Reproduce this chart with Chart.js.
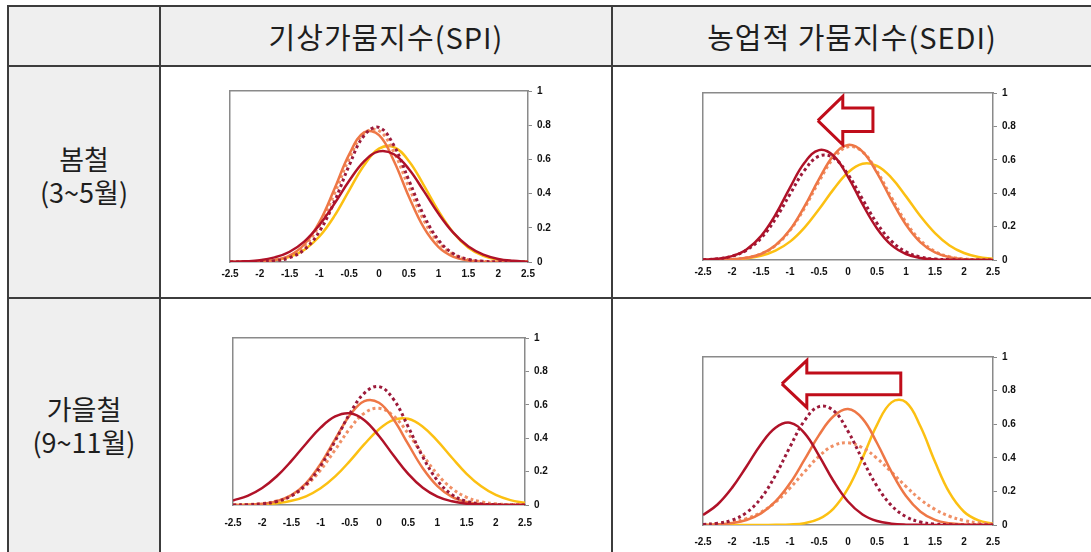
<!DOCTYPE html>
<html>
<head>
<meta charset="utf-8">
<script src="https://cdn.jsdelivr.net/npm/chart.js@4.4.0/dist/chart.umd.min.js"></script>
<style>
  body { margin: 0; width: 1091px; height: 552px; background: #fff; position: relative; overflow: hidden; font-family: 'Noto Sans CJK KR', sans-serif; }
  .bg { position: absolute; background: #efefef; }
  .ln { position: absolute; background: #3c3c3c; }
  .head { position: absolute; top: 6px; height: 60px; line-height: 60px; text-align: center; font-size: 29px; letter-spacing: 1px; color: #1e1e1e; }
  .side { position: absolute; left: 8px; width: 152px; text-align: center; font-size: 27px; line-height: 33px; color: #1e1e1e; }
  canvas { position: absolute; }
</style>
</head>
<body>
<div class="bg" style="left:8px;top:6px;width:1083px;height:60px"></div>
<div class="bg" style="left:8px;top:66px;width:152px;height:486px"></div>

<div class="ln" style="left:7px;top:5px;width:1084px;height:2px"></div>
<div class="ln" style="left:7px;top:65px;width:1084px;height:2px"></div>
<div class="ln" style="left:7px;top:297px;width:1084px;height:2px"></div>
<div class="ln" style="left:7px;top:5px;width:2px;height:547px"></div>
<div class="ln" style="left:159px;top:5px;width:2px;height:547px"></div>
<div class="ln" style="left:611px;top:5px;width:2px;height:547px"></div>

<div class="head" style="left:161px;width:450px">기상가뭄지수(SPI)</div>
<div class="head" style="left:613px;width:478px">농업적 가뭄지수(SEDI)</div>
<div class="side" style="top:142px">봄철<br>(3~5월)</div>
<div class="side" style="top:392px">가을철<br>(9~11월)</div>

<canvas id="spiSpring" width="362" height="205" style="left:210px;top:80px"></canvas>
<canvas id="sediSpring" width="357" height="200" style="left:683px;top:82px"></canvas>
<canvas id="spiAutumn" width="363" height="207" style="left:207px;top:327px"></canvas>
<canvas id="sediAutumn" width="362" height="205" style="left:678px;top:346px"></canvas>

<script>
// x grid of the curves (standardised index)
const xValues = [-2.5, -2.25, -2, -1.75, -1.5, -1.25, -1, -0.75, -0.5, -0.25, 0, 0.25, 0.5, 0.75, 1, 1.25, 1.5, 1.75, 2, 2.25, 2.5];

// 봄철 - SPI
const spiSpringDarkRed = [0.001, 0.004, 0.01, 0.027, 0.06, 0.121, 0.216, 0.34, 0.475, 0.589, 0.647, 0.63, 0.544, 0.416, 0.282, 0.17, 0.09, 0.043, 0.018, 0.007, 0.002];
const spiSpringDarkRedDot = [0, 0, 0.001, 0.007, 0.025, 0.073, 0.178, 0.351, 0.565, 0.74, 0.787, 0.681, 0.479, 0.274, 0.128, 0.048, 0.015, 0.004, 0.001, 0, 0];
const spiSpringOrange = [0, 0.001, 0.003, 0.011, 0.038, 0.104, 0.233, 0.425, 0.629, 0.758, 0.742, 0.591, 0.383, 0.202, 0.087, 0.03, 0.009, 0.002, 0, 0, 0];
const spiSpringOrangeDot = [0, 0, 0.002, 0.01, 0.034, 0.094, 0.215, 0.398, 0.604, 0.752, 0.768, 0.642, 0.439, 0.246, 0.113, 0.043, 0.013, 0.003, 0.001, 0, 0];
const spiSpringYellow = [0, 0.001, 0.003, 0.011, 0.03, 0.072, 0.149, 0.268, 0.419, 0.566, 0.663, 0.672, 0.591, 0.45, 0.297, 0.17, 0.084, 0.036, 0.013, 0.004, 0.001];

// 봄철 - SEDI
const sediSpringDarkRed = [0.002, 0.007, 0.023, 0.063, 0.143, 0.271, 0.434, 0.582, 0.658, 0.624, 0.498, 0.334, 0.189, 0.089, 0.036, 0.012, 0.003, 0.001, 0, 0, 0];
const sediSpringDarkRedDot = [0.002, 0.007, 0.023, 0.059, 0.13, 0.246, 0.394, 0.537, 0.622, 0.612, 0.512, 0.364, 0.22, 0.113, 0.049, 0.018, 0.006, 0.002, 0, 0, 0];
const sediSpringOrange = [0, 0.001, 0.004, 0.013, 0.036, 0.088, 0.181, 0.321, 0.484, 0.625, 0.689, 0.649, 0.522, 0.359, 0.211, 0.106, 0.045, 0.017, 0.005, 0.001, 0];
const sediSpringOrangeDot = [0, 0.001, 0.004, 0.013, 0.036, 0.086, 0.177, 0.311, 0.47, 0.609, 0.678, 0.648, 0.531, 0.374, 0.226, 0.117, 0.052, 0.02, 0.007, 0.002, 0];
const sediSpringYellow = [0, 0.001, 0.004, 0.01, 0.025, 0.056, 0.11, 0.194, 0.304, 0.423, 0.524, 0.576, 0.564, 0.492, 0.381, 0.262, 0.161, 0.087, 0.042, 0.018, 0.007];
const sediSpringArrowX = [-0.52, -0.09, -0.09, 0.43, 0.43, -0.09, -0.09, -0.52];
const sediSpringArrowY = [0.835, 0.98, 0.91, 0.91, 0.77, 0.77, 0.69, 0.835];

// 가을철 - SPI
const spiAutumnDarkRed = [0.027, 0.055, 0.102, 0.172, 0.264, 0.367, 0.463, 0.53, 0.549, 0.508, 0.413, 0.296, 0.186, 0.103, 0.05, 0.022, 0.008, 0.003, 0.001, 0, 0];
const spiAutumnDarkRedDot = [0, 0.002, 0.007, 0.021, 0.055, 0.122, 0.233, 0.384, 0.547, 0.67, 0.709, 0.632, 0.468, 0.288, 0.147, 0.062, 0.022, 0.006, 0.002, 0, 0];
const spiAutumnOrange = [0, 0.002, 0.007, 0.023, 0.059, 0.13, 0.246, 0.394, 0.537, 0.622, 0.612, 0.512, 0.364, 0.22, 0.113, 0.049, 0.018, 0.006, 0.002, 0, 0];
const spiAutumnOrangeDot = [0.001, 0.003, 0.009, 0.024, 0.056, 0.116, 0.21, 0.331, 0.457, 0.55, 0.579, 0.533, 0.428, 0.3, 0.184, 0.099, 0.046, 0.019, 0.007, 0.002, 0.001];
const spiAutumnYellow = [0, 0.001, 0.004, 0.011, 0.025, 0.052, 0.1, 0.171, 0.263, 0.364, 0.454, 0.51, 0.516, 0.469, 0.384, 0.283, 0.187, 0.112, 0.06, 0.029, 0.013];

// 가을철 - SEDI
const sediAutumnDarkRed = [0.059, 0.122, 0.221, 0.348, 0.481, 0.579, 0.609, 0.547, 0.413, 0.262, 0.14, 0.063, 0.024, 0.008, 0.002, 0.001, 0, 0, 0, 0, 0];
const sediAutumnDarkRedDot = [0.003, 0.01, 0.029, 0.074, 0.16, 0.296, 0.465, 0.621, 0.705, 0.681, 0.558, 0.389, 0.231, 0.116, 0.05, 0.018, 0.006, 0.002, 0, 0, 0];
const sediAutumnOrange = [0.001, 0.004, 0.012, 0.03, 0.069, 0.14, 0.248, 0.389, 0.535, 0.647, 0.69, 0.633, 0.488, 0.316, 0.172, 0.079, 0.03, 0.01, 0.003, 0.001, 0];
const sediAutumnOrangeDot = [0.002, 0.007, 0.017, 0.038, 0.076, 0.136, 0.22, 0.317, 0.409, 0.473, 0.489, 0.46, 0.397, 0.315, 0.229, 0.152, 0.093, 0.052, 0.027, 0.013, 0.005];
const sediAutumnYellow = [0, 0, 0, 0, 0, 0.001, 0.003, 0.011, 0.036, 0.098, 0.218, 0.398, 0.596, 0.73, 0.731, 0.586, 0.376, 0.192, 0.079, 0.027, 0.007];
const sediAutumnArrowX = [-1.14, -0.71, -0.71, 0.91, 0.91, -0.71, -0.71, -1.14];
const sediAutumnArrowY = [0.84, 0.98, 0.905, 0.905, 0.775, 0.775, 0.7, 0.84];

const colors = {
  darkRed: '#b01228',
  darkRedDot: '#9c1a3a',
  orange: '#ee7746',
  orangeDot: '#f09066',
  yellow: '#fcc012',
  arrow: '#c00d1a',
  axis: '#8a8a8a',
};

function curve(values, color, dotted) {
  return {
    data: values.map((v, i) => ({ x: xValues[i], y: v })),
    borderColor: color,
    borderWidth: dotted ? 3 : 2.5,
    borderDash: dotted ? [3, 3] : [],
    pointRadius: 0,
    tension: 0.4,
    fill: false,
  };
}

function arrow(xs, ys) {
  return {
    data: xs.map((x, i) => ({ x, y: ys[i] })),
    borderColor: colors.arrow,
    borderWidth: 3,
    borderJoinStyle: 'miter',
    pointRadius: 0,
    tension: 0,
    fill: false,
  };
}

const tickFont = { family: 'Liberation Sans', weight: 'bold', size: 10 };
// plain labels: -2.5, -2, ... and 0, 0.2, ... 1
const plainLabel = (v) => String(Math.round(v * 10) / 10);

function renderChart(id, datasets, padding, labelPad) {
  const ctx = document.getElementById(id);
  return new Chart(ctx, {
    type: 'line',
    data: { datasets },
    options: {
      responsive: false,
      animation: false,
      devicePixelRatio: 1,
      layout: { padding },
      plugins: { legend: { display: false }, tooltip: { enabled: false } },
      scales: {
        x: {
          type: 'linear', position: 'bottom', min: -2.5, max: 2.5,
          afterFit: (s) => { s.height = 22; },
          grid: { display: false, drawTicks: false },
          border: { color: colors.axis, width: 1.5 },
          ticks: { stepSize: 0.5, padding: labelPad, color: '#111', font: tickFont, maxRotation: 0, autoSkip: false, callback: plainLabel },
        },
        y: {
          type: 'linear', position: 'right', min: 0, max: 1,
          afterFit: (s) => { s.width = 40; },
          grid: { drawOnChartArea: false, drawTicks: true, tickLength: 4, color: colors.axis },
          border: { color: colors.axis, width: 1.5 },
          ticks: { stepSize: 0.2, padding: 5, color: '#111', font: tickFont, callback: plainLabel },
        },
        xTop: {
          type: 'linear', position: 'top', min: -2.5, max: 2.5,
          afterFit: (s) => { s.height = 0; },
          grid: { display: false, drawTicks: false },
          border: { color: colors.axis, width: 1.5 },
          ticks: { display: false },
        },
        yLeft: {
          type: 'linear', position: 'left', min: 0, max: 1,
          afterFit: (s) => { s.width = 0; },
          grid: { display: false, drawTicks: false },
          border: { color: colors.axis, width: 1.5 },
          ticks: { display: false },
        },
      },
    },
  });
}

renderChart('spiSpring', [
  curve(spiSpringDarkRed, colors.darkRed, false),
  curve(spiSpringDarkRedDot, colors.darkRedDot, true),
  curve(spiSpringOrange, colors.orange, false),
  curve(spiSpringOrangeDot, colors.orangeDot, true),
  curve(spiSpringYellow, colors.yellow, false),
], { left: 20, top: 8, right: 4, bottom: 1 }, 6);

renderChart('sediSpring', [
  arrow(sediSpringArrowX, sediSpringArrowY),
  curve(sediSpringDarkRed, colors.darkRed, false),
  curve(sediSpringDarkRedDot, colors.darkRedDot, true),
  curve(sediSpringOrange, colors.orange, false),
  curve(sediSpringOrangeDot, colors.orangeDot, true),
  curve(sediSpringYellow, colors.yellow, false),
], { left: 20, top: 8, right: 7, bottom: 0 }, 6);

renderChart('spiAutumn', [
  curve(spiAutumnDarkRed, colors.darkRed, false),
  curve(spiAutumnDarkRedDot, colors.darkRedDot, true),
  curve(spiAutumnOrange, colors.orange, false),
  curve(spiAutumnOrangeDot, colors.orangeDot, true),
  curve(spiAutumnYellow, colors.yellow, false),
], { left: 26, top: 8, right: 5, bottom: 7 }, 12);

renderChart('sediAutumn', [
  arrow(sediAutumnArrowX, sediAutumnArrowY),
  curve(sediAutumnDarkRed, colors.darkRed, false),
  curve(sediAutumnDarkRedDot, colors.darkRedDot, true),
  curve(sediAutumnOrange, colors.orange, false),
  curve(sediAutumnOrangeDot, colors.orangeDot, true),
  curve(sediAutumnYellow, colors.yellow, false),
], { left: 25, top: 8, right: 7, bottom: 4 }, 11);
</script>
</body>
</html>
